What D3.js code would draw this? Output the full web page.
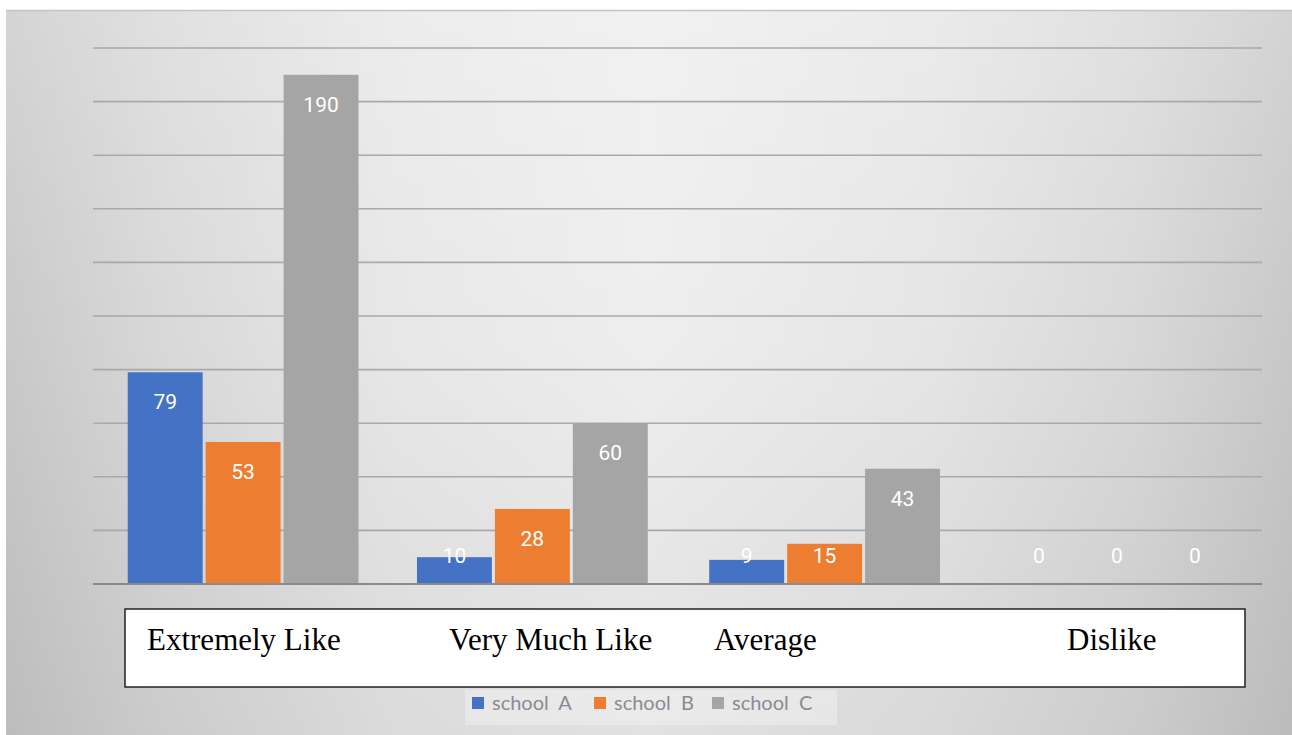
<!DOCTYPE html>
<html>
<head>
<meta charset="utf-8">
<script src="https://cdn.jsdelivr.net/npm/d3@7"></script>
<style>
  html, body { margin: 0; padding: 0; background: #ffffff; }
  svg { display: block; }
</style>
</head>
<body>
<svg id="chart" width="1292" height="735"></svg>
<script>
// ---- data ----
const categories = ["Extremely Like", "Very Much Like", "Average", "Dislike"];
const seriesNames = ["school  A", "school  B", "school  C"];
const schoolA = [79, 10, 9, 0];
const schoolB = [53, 28, 15, 0];
const schoolC = [190, 60, 43, 0];
const yTicks = [0, 20, 40, 60, 80, 100, 120, 140, 160, 180, 200];

// ---- layout ----
const W = 1292, H = 735;
const colors = ["#4472C4", "#ED7D31", "#A5A5A5"];
const series = [schoolA, schoolB, schoolC];
const labelStartX = [147, 449, 714, 1067]; // category text positions inside the white box

const svg = d3.select("#chart");
const defs = svg.append("defs");
const hg = defs.append("linearGradient").attr("id", "bgH").attr("x1", "0%").attr("x2", "100%").attr("y1", "0%").attr("y2", "0%");
[["0%", "#c6c6c6"], ["12%", "#d6d6d6"], ["30%", "#e6e6e6"], ["50%", "#ededed"], ["72%", "#e4e4e4"], ["88%", "#d6d6d6"], ["100%", "#c5c5c5"]]
  .forEach(([o, c]) => hg.append("stop").attr("offset", o).attr("stop-color", c));
const vg = defs.append("linearGradient").attr("id", "bgV").attr("x1", "0%").attr("x2", "0%").attr("y1", "0%").attr("y2", "100%");
vg.append("stop").attr("offset", "0%").attr("stop-color", "#ffffff").attr("stop-opacity", 0.25);
vg.append("stop").attr("offset", "45%").attr("stop-color", "#ffffff").attr("stop-opacity", 0.05);
vg.append("stop").attr("offset", "100%").attr("stop-color", "#000000").attr("stop-opacity", 0.05);

svg.append("rect").attr("x", 6).attr("y", 10).attr("width", W - 6).attr("height", H - 10)
  .attr("fill", "url(#bgH)");
svg.append("rect").attr("x", 6).attr("y", 10).attr("width", W - 6).attr("height", H - 10)
  .attr("fill", "url(#bgV)");
svg.append("line").attr("x1", 6).attr("x2", W).attr("y1", 10.5).attr("y2", 10.5)
  .attr("stroke", "#c4c4c4").attr("stroke-width", 1.5);

const x0 = d3.scaleBand().domain(categories).range([93, 1262]).paddingInner(0.2).paddingOuter(0.1);
const x1 = d3.scaleBand().domain(d3.range(series.length)).range([0, x0.bandwidth()]).padding(0);
const y = d3.scaleLinear().domain([0, 200]).range([584, 48]);

// gridlines
svg.append("g").selectAll("line").data(yTicks.filter(t => t > 0)).join("line")
  .attr("x1", 93).attr("x2", 1262)
  .attr("y1", d => y(d)).attr("y2", d => y(d))
  .attr("stroke", "#a9a9a9").attr("stroke-width", 1.6);

// bars
const groups = svg.append("g").selectAll("g").data(categories).join("g")
  .attr("transform", (d, i) => `translate(${x0(d) + (i === 0 ? 4 : 1)},0)`);
groups.selectAll("rect").data((c, ci) => series.map((s, si) => ({ si, v: s[ci] }))).join("rect")
  .attr("x", d => x1(d.si) + 1.5)
  .attr("width", x1.bandwidth() - 3)
  .attr("y", d => y(d.v))
  .attr("height", d => y(0) - y(d.v))
  .attr("fill", d => colors[d.si]);

// baseline
svg.append("line").attr("x1", 93).attr("x2", 1262).attr("y1", y(0)).attr("y2", y(0))
  .attr("stroke", "#8a8a8a").attr("stroke-width", 2);

// data labels
groups.selectAll("text").data((c, ci) => series.map((s, si) => ({ si, v: s[ci] }))).join("text")
  .attr("x", d => x1(d.si) + x1.bandwidth() / 2)
  .attr("y", d => Math.min(y(d.v) + 37, y(0) - 21))
  .attr("text-anchor", "middle")
  .attr("font-family", "Roboto, sans-serif")
  .attr("font-size", 21)
  .attr("fill", "#ffffff")
  .text(d => d.v);

// category label box
svg.append("rect").attr("x", 125).attr("y", 609).attr("width", 1120).attr("height", 78)
  .attr("fill", "#ffffff").attr("stroke", "#222222").attr("stroke-width", 1.5);
svg.append("g").selectAll("text").data(categories).join("text")
  .attr("x", (d, i) => labelStartX[i])
  .attr("y", 650)
  .attr("font-family", "'Liberation Serif', 'Times New Roman', serif")
  .attr("font-size", 31)
  .attr("fill", "#000000")
  .text(d => d);

// legend
svg.append("rect").attr("x", 465).attr("y", 690).attr("width", 372).attr("height", 35)
  .attr("fill", "#ffffff").attr("opacity", 0.3);
const legendX = [472, 594, 712];
const lg = svg.append("g").selectAll("g").data(seriesNames).join("g")
  .attr("transform", (d, i) => `translate(${legendX[i]},0)`);
lg.append("rect").attr("x", 0).attr("y", 697).attr("width", 12).attr("height", 12)
  .attr("fill", (d, i) => colors[i]);
lg.append("text").attr("x", 20).attr("y", 710)
  .attr("font-family", "Lato, 'Open Sans', sans-serif")
  .attr("font-size", 20)
  .attr("fill", "#878b93")
  .style("white-space", "pre")
  .text(d => d);
</script>
</body>
</html>
